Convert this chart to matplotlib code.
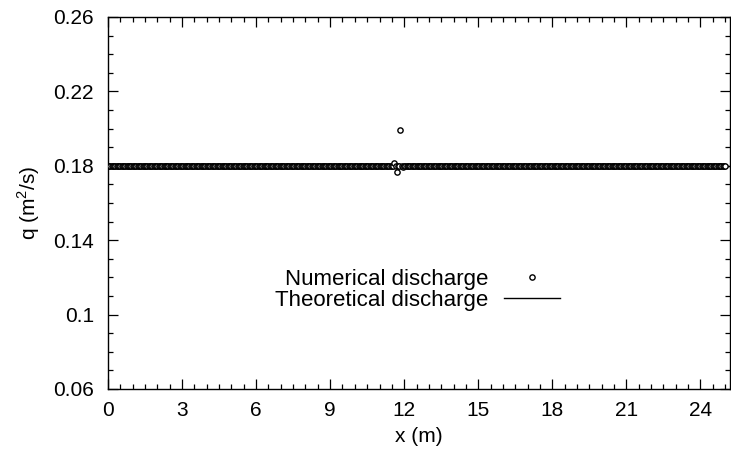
import matplotlib.pyplot as plt
import numpy as np
from matplotlib.ticker import MultipleLocator

plt.rcParams['font.family'] = ['Liberation Sans', 'DejaVu Sans']
plt.rcParams['mathtext.fontset'] = 'custom'
plt.rcParams['mathtext.rm'] = 'Liberation Sans'

# grid of numerical points (m)
x_num = np.round(np.arange(0.0, 25.01, 0.05), 2)
q_base = 0.18
# disturbance near the step
bump_x = [11.6, 11.7, 11.85, 11.95]
bump_q = [0.1815, 0.1765, 0.199, 0.1795]

q_num = np.full(len(x_num), q_base)
for bx, bq in zip(bump_x, bump_q):
    q_num[np.argmin(np.abs(x_num - bx))] = bq

x_theory = [0.0, 25.2]
q_theory = [0.18, 0.18]

xticks = [0, 3, 6, 9, 12, 15, 18, 21, 24]
yticks = [0.06, 0.1, 0.14, 0.18, 0.22, 0.26]
ytick_labels = ['0.06', '0.1', '0.14', '0.18', '0.22', '0.26']

fs = 15

fig = plt.figure(figsize=(7.31, 4.57), dpi=100)
ax = fig.add_axes([108 / 731, 1 - 389 / 457, 622 / 731, 372 / 457])

ax.plot(x_num, q_num, 'o', mfc='white', mec='black', ms=3.8, mew=1.0,
        label='Numerical discharge', zorder=3)
ax.plot(x_theory, q_theory, '-', color='black', lw=1.0,
        label='Theoretical discharge', zorder=2)

ax.set_xlim(0, 25.2)
ax.set_ylim(0.06, 0.26)
ax.set_xticks(xticks)
ax.set_yticks(yticks)
ax.set_yticklabels(ytick_labels)
ax.xaxis.set_minor_locator(MultipleLocator(0.5))
ax.yaxis.set_minor_locator(MultipleLocator(0.01))
ax.tick_params(which='both', direction='in', top=True, right=True,
               labelsize=fs, width=0.9)
ax.tick_params(which='major', length=7)
ax.tick_params(axis='y', which='major', pad=10)
ax.tick_params(axis='x', which='major', pad=9)
ax.tick_params(which='minor', length=3.5)
for s in ax.spines.values():
    s.set_linewidth(1.0)

ax.set_xlabel('x (m)', fontsize=fs, labelpad=5)
ax.set_ylabel('q (m$^2$/s)', fontsize=fs, labelpad=8)

ax.legend(loc='center', bbox_to_anchor=(0.4976, 0.266), frameon=False,
          markerfirst=False, handlelength=2.5, fontsize=16,
          labelspacing=0.0, handletextpad=0.7)
for t in ax.get_legend().get_texts():
    t.set_ha('right')

fig.savefig('out.png', dpi=100)
